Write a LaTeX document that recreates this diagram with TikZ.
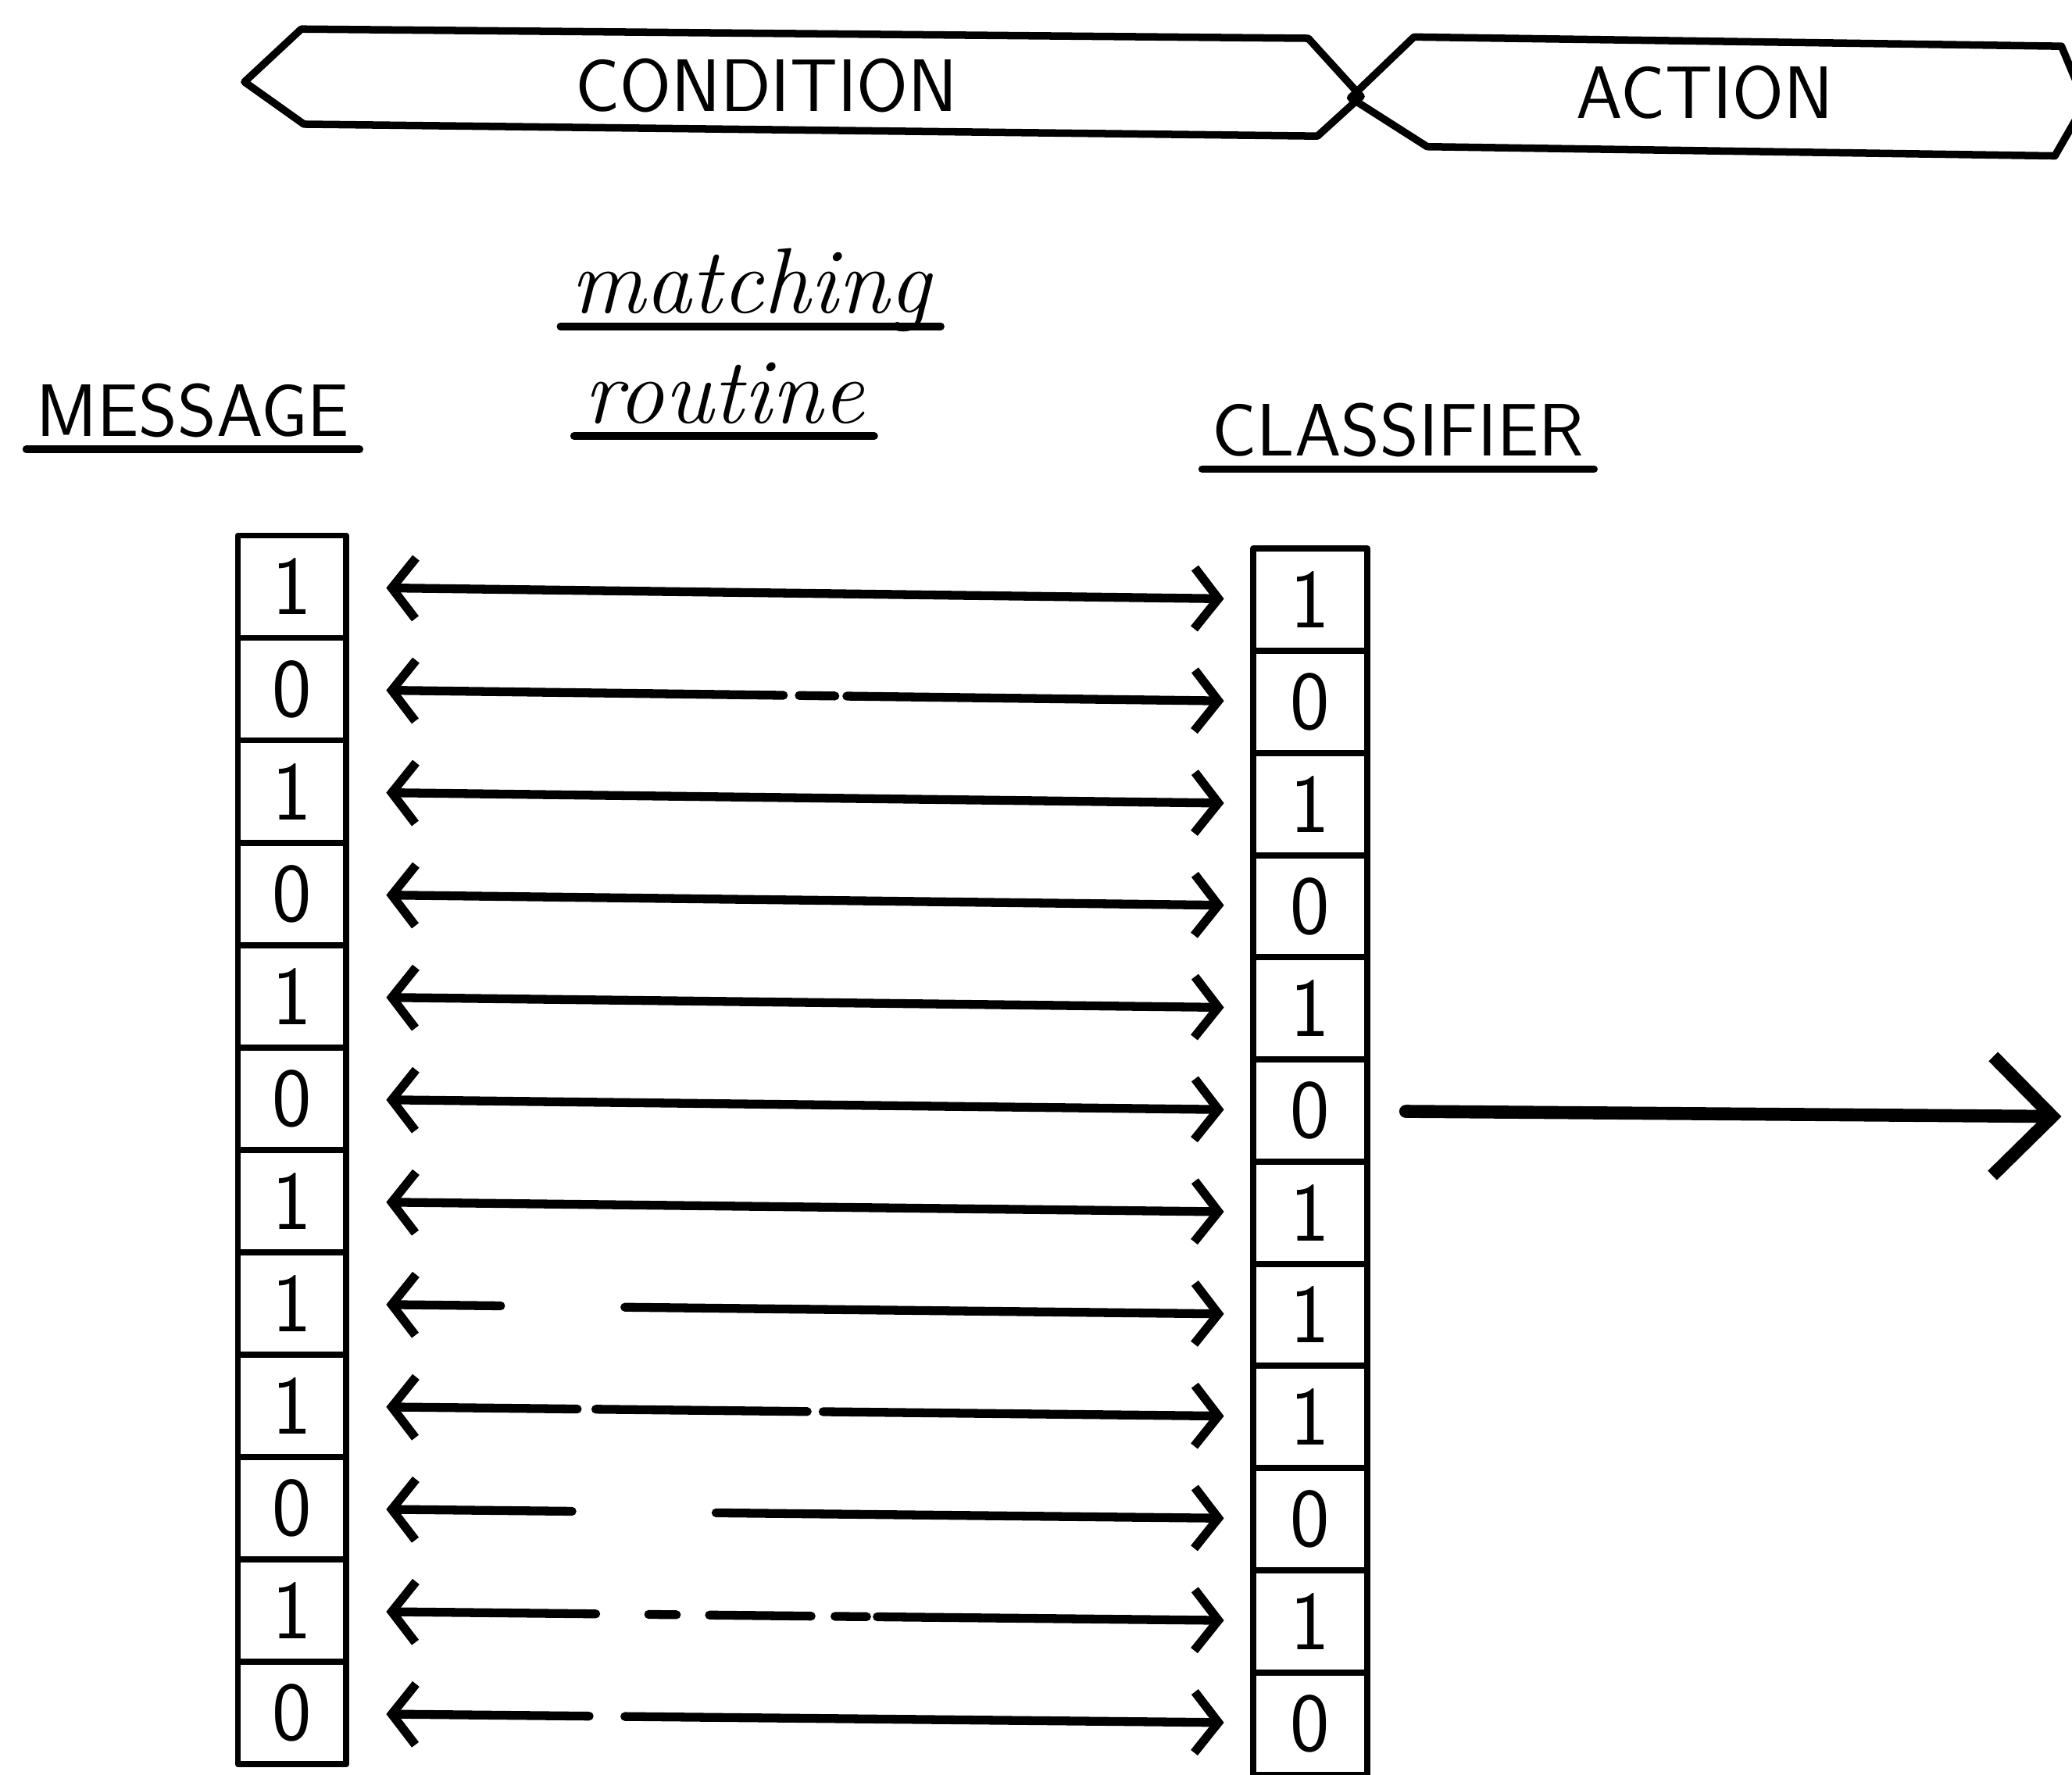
\documentclass[tikz,border=0pt]{standalone}
\usepackage{tikz}
\usetikzlibrary{arrows.meta, positioning}

\begin{document}
\begin{tikzpicture}[
    >={Straight Barb[length=1.8mm, width=4.6mm]},
    line cap=round, line join=round,
    cell/.style={draw, line width=1.3pt, minimum height=0.775cm, inner sep=0pt,
        font=\sffamily\fontsize{18}{20}\selectfont},
    mcell/.style={cell, minimum width=0.82cm},
    ccell/.style={cell, minimum width=0.86cm},
    banner/.style={draw, line width=1.6pt},
    title/.style={font=\sffamily\fontsize{16}{19}\selectfont},
    heading/.style={font=\sffamily\fontsize{16}{19}\selectfont, anchor=base, inner sep=2pt},
    script/.style={font=\rmfamily\itshape\fontsize{20}{24}\selectfont, anchor=base, inner sep=2pt},
    underline/.style={line width=1.6pt},
    match/.style={<->, line width=1.9pt, shorten <=0.28cm, shorten >=0.2cm}
]
\useasboundingbox (0,0) rectangle (15.68,-13.43);
\fill[white] (0,0) rectangle (15.68,-13.43);

% condition / action banners
\node[title] (cond) at (5.80,-0.65) {CONDITION};
\node[title] (act) at (12.90,-0.70) {ACTION};
\draw[banner] (1.85,-0.62) -- (2.28,-0.22) -- (9.90,-0.29) -- (10.30,-0.73)
    -- (9.97,-1.03) -- (2.30,-0.94) -- cycle;
\draw[banner] (10.22,-0.74) -- (10.70,-0.28) -- (15.60,-0.35) -- (15.78,-0.78)
    -- (15.55,-1.18) -- (10.80,-1.11) -- cycle;

% headings
\node[heading] (msg) at (1.46,-3.30) {MESSAGE};
\node[script] (mat) at (5.68,-2.37) {matching};
\node[script] (rou) at (5.48,-3.20) {routine};
\node[heading] (cls) at (10.58,-3.45) {CLASSIFIER};
\foreach \n in {msg, mat, rou, cls}
    \draw[underline] ([yshift=-0.1cm]\n.base west) -- ([yshift=-0.1cm]\n.base east);

% bit strings
\foreach \i/\b in {1/1,2/0,3/1,4/0,5/1,6/0,7/1,8/1,9/1,10/0,11/1,12/0} {
    \node[mcell] (m\i) at (2.21,{-4.44-0.775*(\i-1)}) {\b};
    \node[ccell] (c\i) at (9.915,{-4.54-0.773*(\i-1)}) {\b};
}

% matching
\foreach \i in {1,3,4,5,6,7}
    \draw[match] (m\i) -- (c\i);
\draw[match, dash pattern=on 2.93cm off 0.12cm on 0.27cm off 0.09cm on 10cm] (m2) -- (c2);
\draw[match, dash pattern=on 0.79cm off 0.94cm on 10cm] (m8) -- (c8);
\draw[match, dash pattern=on 1.37cm off 0.14cm on 1.60cm off 0.12cm on 10cm] (m9) -- (c9);
\draw[match, dash pattern=on 1.33cm off 1.09cm on 10cm] (m10) -- (c10);
\draw[match, dash pattern=on 1.51cm off 0.40cm on 0.21cm off 0.25cm on 0.77cm off 0.18cm on 0.24cm off 0.08cm on 10cm] (m11) -- (c11);
\draw[match, dash pattern=on 1.46cm off 0.27cm on 10cm] (m12) -- (c12);

% output
\coordinate (out) at (15.60,-8.45);
\draw[line width=2.8pt, -{Straight Barb[length=4.5mm, width=9mm]}, shorten <=0.27cm] (c6) -- (out);
\end{tikzpicture}
\end{document}
